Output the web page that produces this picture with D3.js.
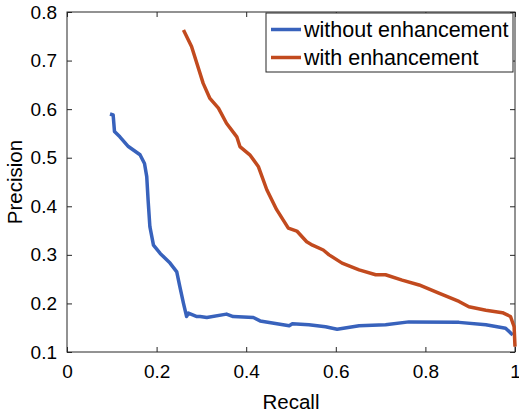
<!DOCTYPE html>
<html><head><meta charset="utf-8">
<script src="https://cdn.jsdelivr.net/npm/d3@7"></script>
<style>body{margin:0;background:#fff}svg{display:block}text{font-family:"Liberation Sans",Arial,sans-serif;fill:#000}</style>
</head><body>
<script>
const xTicks = [0, 0.2, 0.4, 0.6, 0.8, 1];
const yTicks = [0.1, 0.2, 0.3, 0.4, 0.5, 0.6, 0.7, 0.8];
const seriesNames = ["without enhancement", "with enhancement"];
const seriesColors = ["#3862bc", "#c24a1e"];
const blueRecall = [0.096,0.103,0.106,0.118,0.137,0.163,0.173,0.178,0.181,0.185,0.193,0.208,0.230,0.245,0.252,0.260,0.267,0.271,0.290,0.297,0.312,0.356,0.371,0.416,0.431,0.496,0.503,0.540,0.577,0.603,0.652,0.711,0.763,0.875,0.935,0.979,0.995];
const bluePrecision = [0.590,0.588,0.554,0.543,0.523,0.506,0.488,0.461,0.413,0.358,0.320,0.303,0.283,0.265,0.234,0.200,0.173,0.180,0.173,0.173,0.171,0.178,0.173,0.171,0.164,0.154,0.158,0.156,0.152,0.147,0.154,0.156,0.162,0.161,0.156,0.149,0.135];
const redRecall = [0.260,0.278,0.290,0.304,0.319,0.338,0.356,0.379,0.386,0.408,0.427,0.446,0.468,0.494,0.513,0.535,0.548,0.572,0.585,0.614,0.652,0.689,0.711,0.748,0.786,0.830,0.875,0.897,0.935,0.972,0.990,0.998,1.0];
const redPrecision = [0.763,0.729,0.694,0.653,0.622,0.602,0.571,0.543,0.523,0.506,0.482,0.434,0.393,0.355,0.349,0.327,0.320,0.310,0.300,0.283,0.269,0.259,0.259,0.248,0.238,0.221,0.204,0.193,0.186,0.181,0.173,0.152,0.111];

const W = 519, H = 416;
const m = {l: 67, r: 4, t: 12, b: 64};
const svg = d3.select("body").append("svg").attr("width", W).attr("height", H);
const x = d3.scaleLinear().domain([0, 1]).range([m.l, W - m.r]);
const y = d3.scaleLinear().domain([0.1, 0.8]).range([H - m.b, m.t]);
const axisColor = "#262626";

function styleAxis(g, showLabels) {
  g.select(".domain").remove();
  g.selectAll(".tick line").attr("stroke", axisColor).attr("stroke-width", 1);
  g.selectAll(".tick text").style("font-size", "19px").attr("fill", "#000");
  if (!showLabels) g.selectAll(".tick text").remove();
}
svg.append("g").attr("transform", `translate(0,${y(0.1)})`)
  .call(d3.axisBottom(x).tickValues(xTicks).tickFormat(d3.format("")).tickSizeInner(-5).tickPadding(13))
  .call(g => styleAxis(g, true));
svg.append("g").attr("transform", `translate(0,${y(0.8)})`)
  .call(d3.axisTop(x).tickValues(xTicks).tickSizeInner(-5))
  .call(g => styleAxis(g, false));
svg.append("g").attr("transform", `translate(${x(0)},0)`)
  .call(d3.axisLeft(y).tickValues(yTicks).tickFormat(d3.format("")).tickSizeInner(-5).tickPadding(10))
  .call(g => styleAxis(g, true));
svg.append("g").attr("transform", `translate(${x(1)},0)`)
  .call(d3.axisRight(y).tickValues(yTicks).tickSizeInner(-5))
  .call(g => styleAxis(g, false));

svg.append("rect").attr("x", x(0)).attr("y", y(0.8)).attr("width", x(1) - x(0)).attr("height", y(0.1) - y(0.8))
  .attr("fill", "none").attr("stroke", axisColor).attr("stroke-width", 1);

const line = d3.line().x(d => x(d[0])).y(d => y(d[1]));
const series = [
  d3.zip(blueRecall, bluePrecision),
  d3.zip(redRecall, redPrecision)
];
series.forEach((s, i) => {
  svg.append("path").datum(s).attr("d", line).attr("fill", "none")
    .attr("stroke", seriesColors[i]).attr("stroke-width", 3.5).attr("stroke-linejoin", "round");
});

svg.append("text").attr("x", (x(0) + x(1)) / 2).attr("y", 409).attr("text-anchor", "middle")
  .style("font-size", "20.5px").text("Recall");
svg.append("text").attr("transform", `translate(22,${(y(0.1) + y(0.8)) / 2}) rotate(-90)`).attr("text-anchor", "middle")
  .style("font-size", "20.5px").text("Precision");

const lg = svg.append("g");
lg.append("rect").attr("x", 266).attr("y", 13).attr("width", 247).attr("height", 59)
  .attr("fill", "#fff").attr("stroke", axisColor).attr("stroke-width", 1);
seriesNames.forEach((n, i) => {
  const yy = 29.5 + i * 28;
  lg.append("line").attr("x1", 271).attr("x2", 301).attr("y1", yy).attr("y2", yy)
    .attr("stroke", seriesColors[i]).attr("stroke-width", 3.5);
  lg.append("text").attr("x", 304).attr("y", yy).attr("dy", "0.36em").style("font-size", "21.5px").text(n);
});
</script>
</body></html>
